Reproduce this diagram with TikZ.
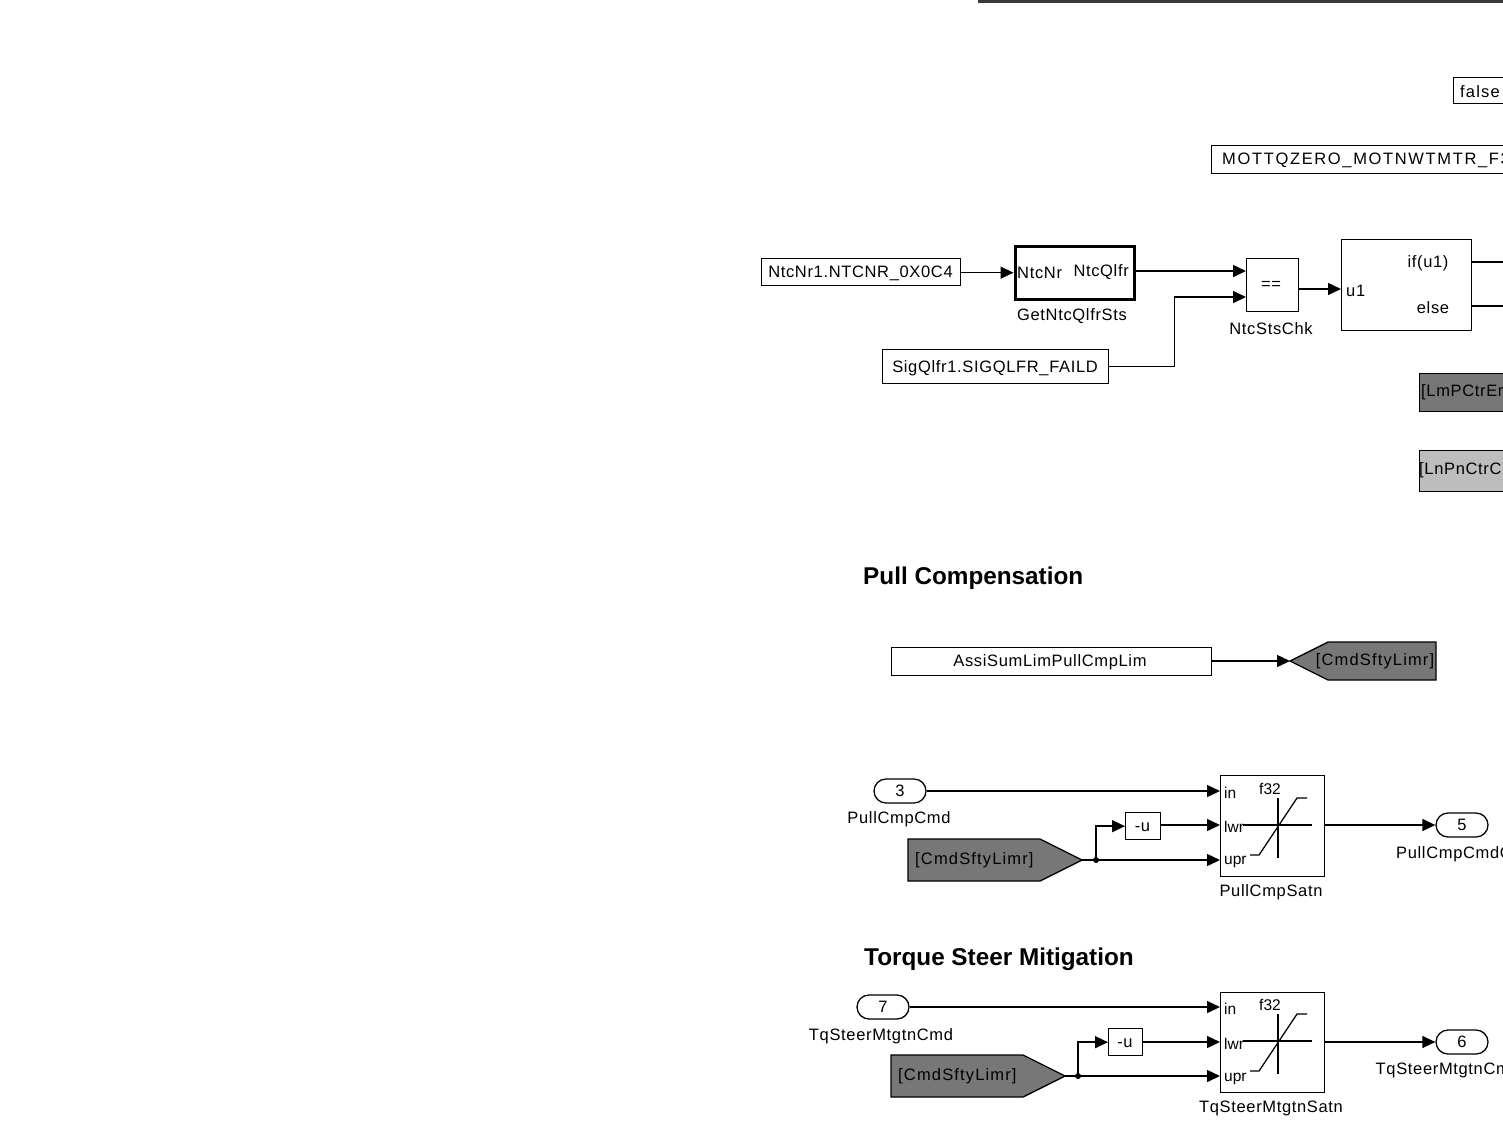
\documentclass[tikz,border=0pt]{standalone}
\usepackage{fontspec}
\setmainfont{Liberation Sans}
\newfontfamily\spaced{Liberation Sans}[LetterSpace=4]
\newfontfamily\spacedw{Liberation Sans}[LetterSpace=7]
\newfontfamily\spacedx{Liberation Sans}[LetterSpace=10]
\usetikzlibrary{arrows.meta}
\definecolor{tagdark}{HTML}{777777}
\definecolor{taglight}{HTML}{BDBDBD}
\definecolor{barcol}{HTML}{3A3A3A}
\newcommand\fs{\spaced\fontsize{16.5}{19}\selectfont}
\newcommand\fsw{\spacedw\fontsize{16.5}{19}\selectfont}
\newcommand\fsx{\spacedx\fontsize{16.5}{19}\selectfont}
\newcommand\fss{\fontsize{15.5}{18}\selectfont}
\newcommand\ttl{\fontsize{24.3}{28}\selectfont\bfseries}

\tikzset{
  blk/.style={draw, line width=1.3pt, fill=white, inner sep=0pt, anchor=north west},
  subsys/.style={blk, line width=3.4pt},
  txt/.style={inner sep=0pt, font=\fs, yshift=-1.5pt},
  ptxt/.style={inner sep=0pt, font=\fss, yshift=-1.5pt},
  title/.style={inner sep=0pt, font=\ttl, anchor=west, yshift=-2pt},
  sig/.style={line width=1.4pt},
  arr/.style={sig, -{Triangle[length=13pt,width=12pt]}},
  port/.style={draw, line width=1.3pt, rounded corners=12pt, fill=white,
               inner sep=0pt, minimum width=52, minimum height=24, font=\fs},
  tag/.style={draw, line width=1.3pt},
  dot/.style={circle, fill=black, inner sep=0pt, minimum size=6pt},
  saticon/.pic={
    \draw[line width=1.3pt] (23,50) -- (92,50);
    \draw[line width=1.3pt] (58,23) -- (58,83);
    \draw[line width=1.3pt] (30,80) -- (39,80) -- (77,23) -- (87,23);
  },
}

\begin{document}
\begin{tikzpicture}[x=1pt,y=-1pt]
\useasboundingbox (0,0) rectangle (1503,1128);
\clip (0,0) rectangle (1503,1128);

% heavy border line along the top
\fill[barcol] (978,-1) rectangle (1510,3);

% constants at the top right
\node[blk, minimum width=70, minimum height=26] (falseC) at (1453,77) {};
\node[txt, font=\fsw, anchor=west] (falseT) at (1460,90) {false};
\node[blk, minimum width=330, minimum height=28] (motC) at (1211,145) {};
\node[txt, font=\fsx, anchor=west] (motT) at (1222,159) {MOTTQZERO\_MOTNWTMTR\_F32};

% NTC qualifier check
\node[blk, minimum width=199, minimum height=27] (ntcnr) at (761,258) {};
\node[txt] (ntcnrT) at (860.5,271.5) {NtcNr1.NTCNR\_0X0C4};
\node[subsys, minimum width=119, minimum height=53] (getq) at (1013.5,244.5) {};
\node[txt, anchor=west] (getqIn) at (1017,271) {NtcNr};
\node[txt, anchor=east] (getqOut) at (1129,271) {NtcQlfr};
\node[txt] (getqL) at (1072,315) {GetNtcQlfrSts};

\node[blk, minimum width=52, minimum height=53] (chk) at (1246,258) {};
\node[txt] (chkT) at (1271,284) {==};
\node[txt] (chkL) at (1271,327) {NtcStsChk};
\coordinate (chkIn1) at (1246,271);
\coordinate (chkIn2) at (1246,297);

\node[blk, minimum width=226, minimum height=34] (sigq) at (882,349) {};
\node[txt] (sigqT) at (995,366.5) {SigQlfr1.SIGQLFR\_FAILD};

\node[blk, minimum width=130, minimum height=91] (ifb) at (1341,239) {};
\node[txt, anchor=west] (ifu) at (1346,289) {u1};
\node[txt] (ifA) at (1428,262) {if(u1)};
\node[txt] (ifE) at (1433,306) {else};
\coordinate (ifIn) at (1341,289);
\coordinate (ifOutA) at (1471,262);
\coordinate (ifOutE) at (1471,306);
\coordinate (ifEndA) at (1510,262);
\coordinate (ifEndE) at (1510,306);

\draw[arr] (ntcnr.east |- getq.west) -- (getq.west);
\draw[arr] (getq.east |- chkIn1) -- (chkIn1);
\draw[arr] (sigq.east) -- ++(65,0) |- (chkIn2);
\draw[arr] (chk.east |- ifIn) -- (ifIn);
\draw[sig] (ifOutA) -- (ifEndA);
\draw[sig] (ifOutE) -- (ifEndE);

% goto tags
\node[blk, fill=tagdark, minimum width=110, minimum height=38] (lmp) at (1419,373) {};
\node[txt, anchor=west] (lmpT) at (1421,391) {[LmPCtrEr};
\node[blk, fill=taglight, minimum width=110, minimum height=41] (lnp) at (1419,450) {};
\node[txt, anchor=west] (lnpT) at (1419,469) {[LnPnCtrC};

% Pull Compensation
\node[title] (pcT) at (863,576) {Pull Compensation};

\node[blk, minimum width=320, minimum height=28] (assi) at (891,647) {};
\node[txt] (assiT) at (1050,661) {AssiSumLimPullCmpLim};
\coordinate (gotoTip) at (1290,661);
\draw[tag, fill=tagdark] (gotoTip) -- (1328,642) -- (1436,642) -- (1436,680) -- (1328,680) -- cycle;
\node[txt, font=\fsw] (gotoT) at (1375,660) {[CmdSftyLimr]};
\draw[arr] (assi.east |- gotoTip) -- (gotoTip);

% pull compensation saturation
\node[port] (in3) at (900,791) {3};
\node[txt] (in3L) at (899,818) {PullCmpCmd};
\node[blk, minimum width=104, minimum height=101] (satA) at (1220,775) {};
\pic at (1220,775) {saticon};
\node[ptxt, anchor=west] (satAi) at (1224,791) {in};
\node[ptxt, anchor=west] (satAl) at (1224,825) {lwr};
\node[ptxt, anchor=west] (satAu) at (1224,860) {upr};
\node[ptxt] (satAf) at (1270,787) {f32};
\node[txt] (satAL) at (1271,891) {PullCmpSatn};
\coordinate (satAin) at (1220,791);
\coordinate (satAlwr) at (1220,825);
\coordinate (satAupr) at (1220,860);

\draw[tag, fill=tagdark] (908,839) -- (1040,839) -- (1082,860) -- (1040,881) -- (908,881) -- cycle;
\coordinate (fromA) at (1082,860);
\node[txt, font=\fsw, anchor=west] (fromAT) at (915,858.5) {[CmdSftyLimr]};
\node[blk, minimum width=35, minimum height=27] (negA) at (1125,812) {};
\node[txt] (negAT) at (1142.5,825.5) {-u};
\node[dot] (jA) at (1096,860) {};

\node[port] (out5) at (1462,825) {5};
\node[txt] (out5L) at (1462,853) {PullCmpCmdOut};

\draw[arr] (in3.east) -- (satAin);
\draw[arr] (fromA) -- (satAupr);
\draw[arr] (jA.center) |- (negA.west);
\draw[arr] (negA.east |- satAlwr) -- (satAlwr);
\draw[arr] (satA.east |- out5) -- (out5.west);

% Torque Steer Mitigation
\node[title] (tsT) at (864,957) {Torque Steer Mitigation};

\node[port] (in7) at (883,1007) {7};
\node[txt] (in7L) at (881,1035) {TqSteerMtgtnCmd};
\node[blk, minimum width=104, minimum height=100] (satB) at (1220,992) {};
\pic at (1220,991) {saticon};
\node[ptxt, anchor=west] (satBi) at (1224,1007) {in};
\node[ptxt, anchor=west] (satBl) at (1224,1042) {lwr};
\node[ptxt, anchor=west] (satBu) at (1224,1077) {upr};
\node[ptxt] (satBf) at (1270,1003) {f32};
\node[txt] (satBL) at (1271,1107) {TqSteerMtgtnSatn};
\coordinate (satBin) at (1220,1007);
\coordinate (satBlwr) at (1220,1042);
\coordinate (satBupr) at (1220,1076);

\draw[tag, fill=tagdark] (891,1055) -- (1023,1055) -- (1065,1076) -- (1023,1097) -- (891,1097) -- cycle;
\coordinate (fromB) at (1065,1076);
\node[txt, font=\fsw, anchor=west] (fromBT) at (898,1074.5) {[CmdSftyLimr]};
\node[blk, minimum width=34, minimum height=27] (negB) at (1108,1028) {};
\node[txt] (negBT) at (1125,1041.5) {-u};
\node[dot] (jB) at (1078,1076) {};

\node[port] (out6) at (1462,1042) {6};
\node[txt] (out6L) at (1462,1069) {TqSteerMtgtnCmdOut};

\draw[arr] (in7.east) -- (satBin);
\draw[arr] (fromB) -- (satBupr);
\draw[arr] (jB.center) |- (negB.west);
\draw[arr] (negB.east |- satBlwr) -- (satBlwr);
\draw[arr] (satB.east |- out6) -- (out6.west);
\end{tikzpicture}
\end{document}
